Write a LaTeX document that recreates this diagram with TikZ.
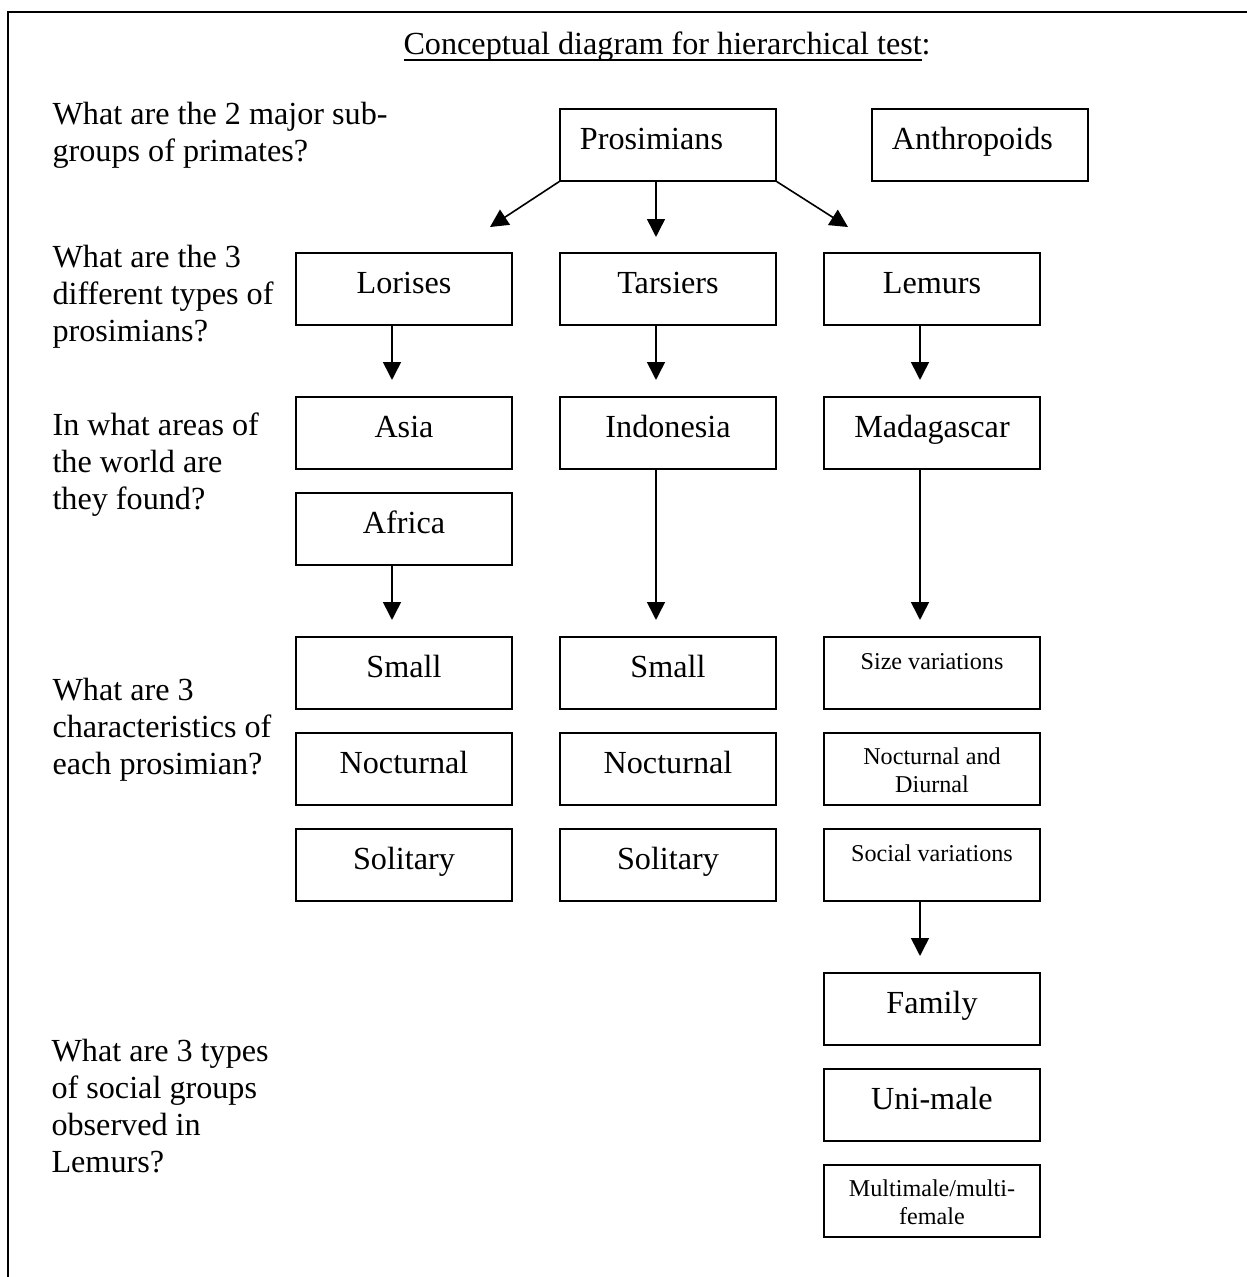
\documentclass[tikz,border=0pt]{standalone}
\usepackage{fontspec}
\setmainfont{Liberation Serif}
\usetikzlibrary{arrows.meta,calc}

\newsavebox{\ttlbox}
\newcommand{\titleul}[1]{\sbox\ttlbox{#1}\rlap{\rule[-2.5pt]{\wd\ttlbox}{0.6pt}}\usebox\ttlbox}

\tikzset{
  box/.style={draw, line width=0.6pt, anchor=north, minimum width=2.832cm,
    inner xsep=0pt, inner ysep=0pt, text height=0.5375cm, text depth=0.4064cm, align=center},
  smallbox/.style={box, font=\fontsize{9}{10.4}\selectfont, text height=0.4326cm, text depth=0.5113cm},
  twoline/.style={smallbox, text height=0.7866cm, text depth=0.1573cm},
  leftbox/.style={box, text width=2.307cm, inner xsep=0.262cm, align=left},
  question/.style={anchor=base west, inner sep=0pt, align=left},
  arr/.style={line width=0.6pt, -{Triangle[length=6.7pt,width=6.7pt]}},
  down/.style={arr, shorten >=0.21cm},
}

\begin{document}
\begin{tikzpicture}[x=0.01311cm, y=-0.01311cm, font=\fontsize{12}{13.8}\selectfont]
\useasboundingbox (0,0) rectangle (1247,1277);

% Frame
\draw[line width=0.75pt] (1247,12) -- (8,12) -- (8,1277);

% Title
\node[anchor=base west, inner sep=0pt] (title) at (403,54)
  {\titleul{Conceptual diagram for hierarchical test}:};

% Questions (placed by the baseline of their last line)
\node[question] (q1) at (52,161) {What are the 2 major sub-\\groups of primates?};
\node[question] (q2) at (52,341) {What are the 3\\different types of\\prosimians?};
\node[question] (q3) at (52,509) {In what areas of\\the world are\\they found?};
\node[question] (q4) at (52,774) {What are 3\\characteristics of\\each prosimian?};
\node[question] (q5) at (51,1172) {What are 3 types\\of social groups\\observed in\\Lemurs?};

% Sub-groups
\node[leftbox] (pro) at (668,108) {Prosimians};
\node[leftbox] (ant) at (980,108) {Anthropoids};

% Types
\node[box] (lor) at (404,252) {Lorises};
\node[box] (tar) at (668,252) {Tarsiers};
\node[box] (lem) at (932,252) {Lemurs};

% Areas
\node[box] (asia) at (404,396) {Asia};
\node[box] (afr) at (404,492) {Africa};
\node[box] (indo) at (668,396) {Indonesia};
\node[box] (mad) at (932,396) {Madagascar};

% Characteristics
\node[box] (lorS) at (404,636) {Small};
\node[box] (lorN) at (404,732) {Nocturnal};
\node[box] (lorL) at (404,828) {Solitary};
\node[box] (tarS) at (668,636) {Small};
\node[box] (tarN) at (668,732) {Nocturnal};
\node[box] (tarL) at (668,828) {Solitary};
\node[smallbox] (lemS) at (932,636) {Size variations};
\node[twoline] (lemN) at (932,732) {Nocturnal and\\Diurnal};
\node[smallbox] (lemL) at (932,828) {Social variations};

% Social groups
\node[box] (fam) at (932,972) {Family};
\node[box] (uni) at (932,1068) {Uni-male};
\node[twoline] (multi) at (932,1164) {Multimale/multi-\\female};

% Arrows from Prosimians
\coordinate (lorTip) at (490,227);
\coordinate (lemTip) at (848,227);
\draw[arr] (pro.south west) -- (lorTip);
\draw[arr] (pro.south east) -- (lemTip);
\draw[arr, shorten >=0.197cm] ($(pro.south)+(-12,0)$) -- ($(tar.north)+(-12,0)$);

% Arrows down the columns
\draw[down] ($(lor.south)+(-12,0)$) -- ($(asia.north)+(-12,0)$);
\draw[down] ($(tar.south)+(-12,0)$) -- ($(indo.north)+(-12,0)$);
\draw[down] ($(lem.south)+(-12,0)$) -- ($(mad.north)+(-12,0)$);
\draw[down] ($(afr.south)+(-12,0)$) -- ($(lorS.north)+(-12,0)$);
\draw[down] ($(indo.south)+(-12,0)$) -- ($(tarS.north)+(-12,0)$);
\draw[down] ($(mad.south)+(-12,0)$) -- ($(lemS.north)+(-12,0)$);
\draw[down] ($(lemL.south)+(-12,0)$) -- ($(fam.north)+(-12,0)$);

\end{tikzpicture}
\end{document}
